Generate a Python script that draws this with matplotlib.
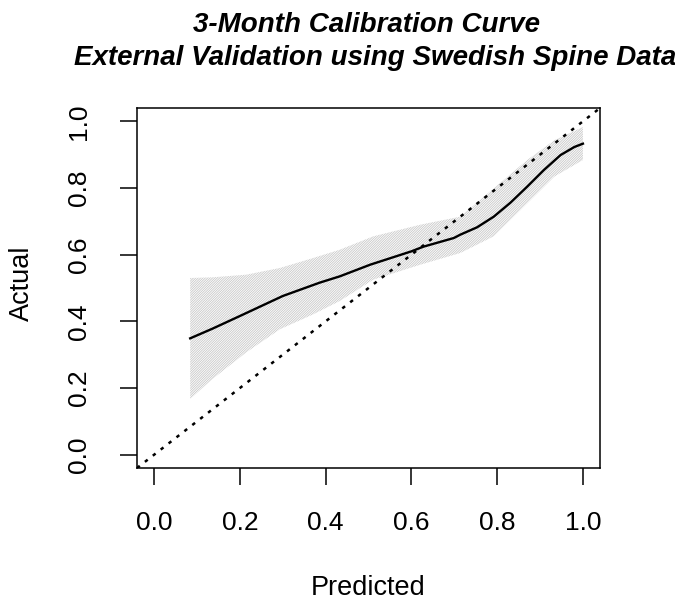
import matplotlib.pyplot as plt

plt.rcParams['font.family'] = ['Liberation Sans', 'DejaVu Sans']
plt.rcParams['hatch.linewidth'] = 0.6

# smoothed calibration curve (predicted -> observed)
curve_x = [0.084, 0.136, 0.2, 0.3, 0.386, 0.433, 0.504, 0.6, 0.628, 0.699, 0.714,
           0.753, 0.792, 0.831, 0.870, 0.909, 0.948, 0.980, 1.0]
curve_y = [0.349, 0.378, 0.416, 0.476, 0.516, 0.535, 0.570, 0.610, 0.624, 0.650, 0.660,
           0.682, 0.714, 0.756, 0.804, 0.854, 0.899, 0.923, 0.933]

# confidence band around the curve
band_x = [0.084, 0.136, 0.215, 0.293, 0.371, 0.433, 0.511, 0.621, 0.714, 0.792, 0.870, 0.933, 1.0]
band_upper = [0.530, 0.532, 0.540, 0.560, 0.590, 0.615, 0.655, 0.690, 0.714, 0.799, 0.884, 0.943, 0.983]
band_lower = [0.167, 0.227, 0.307, 0.376, 0.421, 0.461, 0.525, 0.570, 0.605, 0.655, 0.754, 0.834, 0.884]

ticks = [0.0, 0.2, 0.4, 0.6, 0.8, 1.0]
tick_labels = ['0.0', '0.2', '0.4', '0.6', '0.8', '1.0']

fig = plt.figure(figsize=(6.75, 6.02), dpi=100)
ax = fig.add_axes([0.203, 0.2226, 0.686, 0.598])

ax.fill_between(band_x, band_lower, band_upper, facecolor='none',
                edgecolor='#c8c8c8', linewidth=0, hatch='/' * 14)
ax.plot(curve_x, curve_y, color='black', linewidth=1.7)
# ideal calibration reference line
ax.axline((0, 0), slope=1, color='black', linewidth=1.8, linestyle=(0, (1.4, 2.6)))

ax.set_xlim(-0.04, 1.04)
ax.set_ylim(-0.04, 1.04)
ax.set_xticks(ticks)
ax.set_xticklabels(tick_labels)
ax.set_yticks(ticks)
ax.set_yticklabels(tick_labels, rotation=90, va='center')
ax.tick_params(axis='both', length=12, width=1.1, labelsize=19, direction='out')
ax.tick_params(axis='x', pad=19)
ax.tick_params(axis='y', pad=21)
for sp in ax.spines.values():
    sp.set_linewidth(1.1)

fig.text(0.543, 0.947, '3-Month Calibration Curve', ha='center', va='baseline',
         fontsize=20, fontweight='bold', fontstyle='italic')
fig.text(0.556, 0.892, 'External Validation using Swedish Spine Data', ha='center',
         va='baseline', fontsize=20, fontweight='bold', fontstyle='italic')
fig.text(0.545, 0.012, 'Predicted', ha='center', va='baseline', fontsize=19.5)
fig.text(0.033, 0.53, 'Actual', ha='center', va='center', rotation=90, fontsize=19.5)

fig.savefig('out.png', dpi=100)
